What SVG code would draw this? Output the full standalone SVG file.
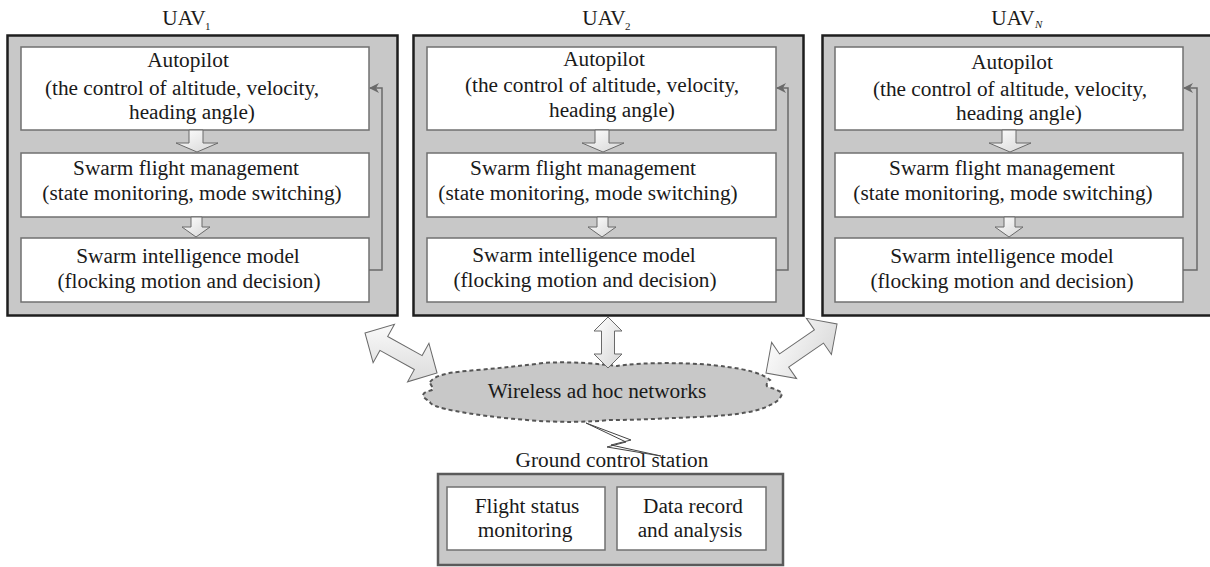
<svg xmlns="http://www.w3.org/2000/svg" width="1210" height="567" viewBox="0 0 1210 567">
  <style>
    .outer { fill: #c8c8c8; stroke: #1e1e1e; stroke-width: 2.5; }
    .gcs { fill: #c8c8c8; stroke: #5a5a5a; stroke-width: 2.5; }
    .inner { fill: #ffffff; stroke: #707070; stroke-width: 1.5; }
    .t { font-family: "Liberation Serif", "Times New Roman", serif; font-size: 21.3px; fill: #1a1a1a; text-anchor: middle; }
    .sub { font-family: "Liberation Serif", "Times New Roman", serif; font-size: 11px; fill: #1a1a1a; }
    .blk { fill: url(#arrowFill); stroke: #6a6a6a; stroke-width: 1; stroke-linejoin: miter; }
    .fb { fill: none; stroke: #6a6a6a; stroke-width: 1.5; marker-end: url(#head); }
    .cloud { fill: #c8c8c8; stroke: #555555; stroke-width: 2; stroke-dasharray: 4 3; }
    .bolt { fill: #ffffff; stroke: #444444; stroke-width: 1; stroke-linejoin: miter; }
  </style>
  <defs>
    <linearGradient id="arrowFill" x1="0" y1="0" x2="1" y2="1">
      <stop offset="0" stop-color="#ffffff"/>
      <stop offset="1" stop-color="#d6d6d6"/>
    </linearGradient>
    <marker id="head" viewBox="0 0 10 10" refX="9" refY="5" markerWidth="10" markerHeight="10" markerUnits="userSpaceOnUse" orient="auto">
      <path d="M0,0 L10,5 L0,10 L3,5 Z" fill="#6a6a6a"/>
    </marker>
  </defs>

  <!-- UAV 1 -->
  <g id="uav1">
    <text class="t" x="184" y="25">UAV</text>
    <text class="sub" x="205" y="30">1</text>
    <rect class="outer" x="7.5" y="35.5" width="390" height="280"/>
    <rect class="inner" x="21" y="47" width="348" height="83"/>
    <text class="t" x="188" y="67">Autopilot</text>
    <text class="t" x="182" y="95">(the control of altitude, velocity,</text>
    <text class="t" x="192" y="119">heading angle)</text>
    <rect class="inner" x="21" y="153" width="348" height="64"/>
    <text class="t" x="186" y="175">Swarm flight management</text>
    <text class="t" x="192" y="200">(state monitoring, mode switching)</text>
    <rect class="inner" x="21" y="238" width="348" height="64"/>
    <text class="t" x="188" y="263">Swarm intelligence model</text>
    <text class="t" x="189" y="288">(flocking motion and decision)</text>
  </g>

  <!-- UAV 2 -->
  <g id="uav2">
    <text class="t" x="604" y="25">UAV</text>
    <text class="sub" x="625" y="30">2</text>
    <rect class="outer" x="413.5" y="35.5" width="390" height="280"/>
    <rect class="inner" x="427" y="47" width="349" height="83"/>
    <text class="t" x="604" y="66">Autopilot</text>
    <text class="t" x="602" y="92">(the control of altitude, velocity,</text>
    <text class="t" x="612" y="117">heading angle)</text>
    <rect class="inner" x="427" y="153" width="349" height="64"/>
    <text class="t" x="583" y="175">Swarm flight management</text>
    <text class="t" x="588" y="200">(state monitoring, mode switching)</text>
    <rect class="inner" x="427" y="238" width="349" height="64"/>
    <text class="t" x="584" y="262">Swarm intelligence model</text>
    <text class="t" x="585" y="287">(flocking motion and decision)</text>
  </g>

  <!-- UAV N -->
  <g id="uavN">
    <text class="t" x="1013" y="25">UAV</text>
    <text class="sub" x="1035" y="28" font-style="italic">N</text>
    <rect class="outer" x="822.5" y="35.5" width="392" height="280"/>
    <rect class="inner" x="835" y="47" width="348" height="83"/>
    <text class="t" x="1012" y="69">Autopilot</text>
    <text class="t" x="1010" y="96">(the control of altitude, velocity,</text>
    <text class="t" x="1019" y="120">heading angle)</text>
    <rect class="inner" x="835" y="153" width="348" height="64"/>
    <text class="t" x="1002" y="175">Swarm flight management</text>
    <text class="t" x="1003" y="200">(state monitoring, mode switching)</text>
    <rect class="inner" x="835" y="238" width="348" height="64"/>
    <text class="t" x="1002" y="263">Swarm intelligence model</text>
    <text class="t" x="1002" y="288">(flocking motion and decision)</text>
  </g>

  <!-- wireless network cloud -->
  <g id="network">
    <path class="cloud" d="M430,382 C436,374 452,372 477,370 C500,368 520,366 543,363 C570,361 600,364 617,366 C640,362 700,362 727,367 C745,369 762,373 770,380 C766,383 766,386 768,387 C776,389 782,392 782,394 C780,400 775,403 770,405 C760,411 740,415 700,417 C670,418 640,420 610,420 C590,422 560,423 527,420 C500,418 470,414 455,411 C440,408 430,405 430,402 C428,400 423,398 423,395 C424,391 432,391 433,389 C432,386 430,384 430,382 Z"/>
    <text class="t" x="597" y="398">Wireless ad hoc networks</text>
  </g>

  <!-- ground control station -->
  <g id="gcs">
    <text class="t" x="612" y="467">Ground control station</text>
    <rect class="gcs" x="438" y="474" width="345" height="91"/>
    <rect class="inner" x="447" y="487" width="158" height="63"/>
    <text class="t" x="527" y="513">Flight status</text>
    <text class="t" x="525" y="537">monitoring</text>
    <rect class="inner" x="617" y="487" width="149" height="63"/>
    <text class="t" x="693" y="513">Data record</text>
    <text class="t" x="690" y="537">and analysis</text>
  </g>

  <!-- connectors -->
  <g id="connectors">
    <!-- data flow inside each UAV -->
    <path class="blk" d="M189,130 L203,130 L203,143 L218,143 L197,152 L176,143 L189,143 Z"/>
    <path class="blk" d="M191,217 L202,217 L202,227 L210,227 L196,237 L182,227 L191,227 Z"/>
    <path class="blk" d="M595,130 L609,130 L609,143 L624,143 L603,152 L582,143 L595,143 Z"/>
    <path class="blk" d="M597,217 L608,217 L608,227 L616,227 L602,237 L588,227 L597,227 Z"/>
    <path class="blk" d="M1002,130 L1016,130 L1016,143 L1031,143 L1010,152 L989,143 L1002,143 Z"/>
    <path class="blk" d="M1004,217 L1015,217 L1015,227 L1023,227 L1009,237 L995,227 L1004,227 Z"/>

    <!-- feedback loops -->
    <polyline class="fb" points="369,270 382,270 382,88 370,88"/>
    <polyline class="fb" points="776,270 788,270 788,88 777,88"/>
    <polyline class="fb" points="1183,270 1197,270 1197,88 1184,88"/>

    <!-- UAV to network links -->
    <path class="blk" transform="translate(365,333) rotate(29.05)" d="M0,0 L21.5,-22 L21.5,-8 L60.9,-8 L60.9,-22 L82.4,0 L60.9,22 L60.9,8 L21.5,8 L21.5,22 Z"/>
    <path class="blk" d="M608,317 L622,331 L614.5,331 L614.5,354 L622,354 L608,368 L594,354 L601.5,354 L601.5,331 L594,331 Z"/>
    <path class="blk" transform="translate(766,373) rotate(-34.6)" d="M0,0 L22,-22 L22,-8 L64.3,-8 L64.3,-22 L86.3,0 L64.3,22 L64.3,8 L22,8 L22,22 Z"/>

    <!-- radio link to ground station -->
    <polygon class="bolt" points="586,423 631,440 611,445 661,456 607,447 626,442"/>
  </g>
</svg>
